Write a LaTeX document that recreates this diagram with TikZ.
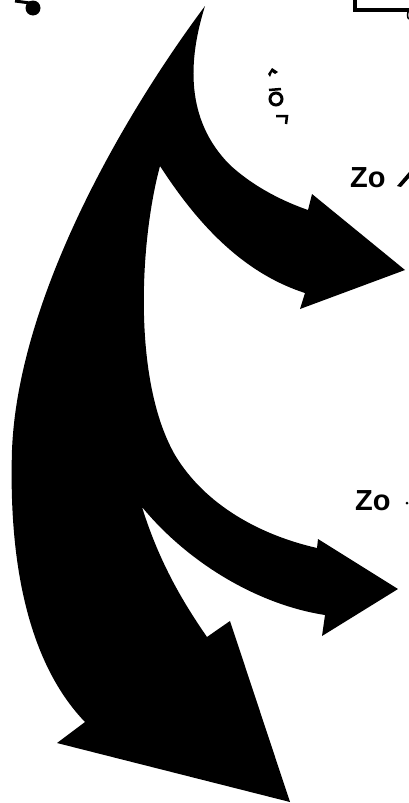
\documentclass[tikz,border=0pt]{standalone}
\usepackage{fontspec}
\setmainfont{Liberation Sans}
\begin{document}
\begin{tikzpicture}[x=1pt,y=-1pt,
  lbl/.style={font=\fontsize{29}{30}\selectfont\bfseries, inner sep=0pt, anchor=west},
  ink/.style={fill=black, draw=none}]
\useasboundingbox (0,0) rectangle (409,803);
% main branching arrow
\fill[ink] (205,6)
  .. controls (188,60) and (185,120) .. (230,165)
  .. controls (255,188) and (285,202) .. (308,210)
  -- (312,194) -- (405,270) -- (300,309) -- (305,293)
  .. controls (240,272) and (195,220) .. (160,166)
  .. controls (140,240) and (132,380) .. (175,455)
  .. controls (205,505) and (260,535) .. (317,548)
  -- (318,539) -- (398,589) -- (322,636) -- (325,615)
  .. controls (260,605) and (190,565) .. (142,507)
  .. controls (160,565) and (185,605) .. (207,637)
  -- (217,630) -- (230,621) -- (290,802) -- (57,743) -- (85,722)
  .. controls (35,670) and (8,580) .. (12,450)
  .. controls (18,300) and (120,120) .. (205,6)
  -- cycle;
% labels
\node[lbl] (zo1) at (350,178) {Zo};
\node[lbl] (zo2) at (355,501) {Zo};
% cut-off fragments at the right edge
\fill[ink] (409,172) -- (397,186) -- (401,187) -- (409,178) -- cycle;
\fill[ink] (407,503) circle (1.5);
% small marks near the top
\fill[ink] (268,74) -- (272,68) -- (278,72) -- (275,74) -- (272,72) -- (270,77) -- cycle;
\draw[line width=3pt] (276,99) circle (6);
\draw[line width=2.5pt] (269,90) -- (281,89);
\draw[line width=2.5pt] (276,116) -- (287,116) -- (286,124);
% top-left blob
\fill[ink] (33,8) circle (7.5);
\draw[line width=3pt] (15,1) -- (30,3);
% top-right box corner
\draw[line width=4pt] (355,0) -- (355,10) -- (409,10);
\draw[line width=1.5pt] (409,19) arc (90:270:1.5 and 4);
\end{tikzpicture}
\end{document}
